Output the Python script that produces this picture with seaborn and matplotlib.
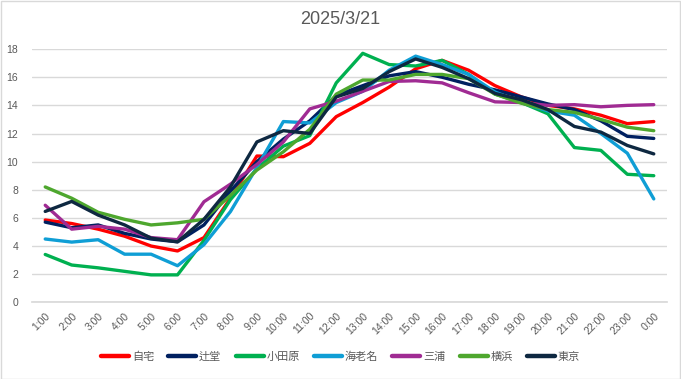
import matplotlib
matplotlib.use("Agg")
import matplotlib.pyplot as plt
import seaborn as sns
import pandas as pd
import numpy as np
from matplotlib.patches import Rectangle

hours = ["1:00", "2:00", "3:00", "4:00", "5:00", "6:00", "7:00", "8:00", "9:00", "10:00",
         "11:00", "12:00", "13:00", "14:00", "15:00", "16:00", "17:00", "18:00", "19:00",
         "20:00", "21:00", "22:00", "23:00", "0:00"]

jitaku = [5.85, 5.6, 5.2, 4.7, 4.0, 3.65, 4.6, 7.4, 10.4, 10.35, 11.3, 13.2, 14.2, 15.3,
          16.6, 17.2, 16.5, 15.4, 14.6, 14.0, 13.75, 13.3, 12.7, 12.85]
tsujido = [5.7, 5.3, 5.5, 4.9, 4.5, 4.3, 5.5, 7.9, 10.0, 11.6, 12.9, 14.7, 15.4, 16.1,
           16.4, 16.0, 15.5, 15.1, 14.6, 14.1, 13.7, 12.9, 11.8, 11.65]
odawara = [3.4, 2.65, 2.45, 2.2, 1.95, 1.95, 4.4, 7.3, 9.5, 11.1, 11.85, 15.6, 17.7, 16.9,
           16.8, 17.2, 16.2, 14.8, 14.2, 13.4, 11.0, 10.8, 9.1, 9.0]
ebina = [4.5, 4.28, 4.45, 3.42, 3.42, 2.6, 4.1, 6.45, 9.6, 12.85, 12.75, 14.2, 15.0, 16.5,
         17.5, 16.9, 16.2, 14.95, 14.2, 13.6, 13.3, 12.0, 10.6, 7.35]
miura = [6.9, 5.2, 5.4, 5.2, 4.6, 4.45, 7.15, 8.4, 9.8, 11.4, 13.75, 14.3, 15.0, 15.7,
         15.75, 15.6, 14.9, 14.25, 14.2, 14.0, 14.05, 13.9, 14.0, 14.05]
yokohama = [8.2, 7.4, 6.4, 5.9, 5.5, 5.65, 5.9, 7.6, 9.4, 10.7, 12.3, 14.8, 15.8, 15.8,
            16.2, 16.2, 15.9, 14.8, 14.15, 13.7, 13.5, 13.0, 12.45, 12.2]
tokyo = [6.46, 7.17, 6.2, 5.5, 4.56, 4.3, 5.9, 8.2, 11.4, 12.2, 12.0, 14.6, 15.2, 16.4,
         17.3, 16.7, 15.9, 14.85, 14.4, 13.7, 12.5, 12.1, 11.15, 10.55]

stations = ["自宅", "辻堂", "小田原", "海老名", "三浦", "横浜", "東京"]
series = [jitaku, tsujido, odawara, ebina, miura, yokohama, tokyo]
colors = ["#FF0000", "#002060", "#00B050", "#0F9ED5", "#A02B93", "#4EA72E", "#0E2841"]
title = "2025/3/21"

rows = []
for name, vals in zip(stations, series):
    for i, v in enumerate(vals):
        rows.append({"hour": i, "label": hours[i], "station": name, "value": v})
df = pd.DataFrame(rows)

sns.set_theme(style="white")
plt.rcParams["font.family"] = ["Liberation Sans", "Noto Sans CJK JP", "DejaVu Sans"]

fig = plt.figure(figsize=(6.81, 3.79), dpi=100)
ax = fig.add_axes([32 / 681, 1 - 302.3 / 379, (667 - 32) / 681, (302.3 - 49.1) / 379])

sns.lineplot(data=df, x="hour", y="value", hue="station", hue_order=stations,
             palette=dict(zip(stations, colors)), linewidth=2.4, ax=ax, sort=False,
             legend=True)

ax.set_xlim(-0.5, len(hours) - 0.5)
ax.set_ylim(0, 18)
ax.set_yticks(np.arange(0, 19, 2))
ax.set_xticks(range(len(hours)))
ax.set_xticklabels(hours, rotation=45, ha="right", rotation_mode="anchor")
ax.tick_params(axis="both", length=0, labelsize=7.5, colors="#595959")
ax.tick_params(axis="x", pad=6)
ax.tick_params(axis="y", pad=10)
ax.grid(axis="y", color="#D9D9D9", linewidth=1)
ax.set_axisbelow(True)
for s in ["top", "right", "left"]:
    ax.spines[s].set_visible(False)
ax.spines["bottom"].set_color("#D9D9D9")
ax.set_xlabel("")
ax.set_ylabel("")

fig.text(0.5, 1 - 20 / 379, title, ha="center", va="center", fontsize=13, color="#595959")

handles, labels = ax.get_legend_handles_labels()
ax.legend_.remove()
leg = fig.legend(handles, labels, loc="center", bbox_to_anchor=(0.5, 1 - 357 / 379),
                 ncol=7, frameon=False, fontsize=8, handlelength=2.5, handletextpad=0.25,
                 columnspacing=1.3, labelcolor="#595959")
for h in leg.legend_handles:
    h.set_linewidth(3.2)

fig.patches.append(Rectangle((0.5 / 681, 0.5 / 379), 679.5 / 681, 377.5 / 379,
                             transform=fig.transFigure, fill=False,
                             edgecolor="#D9D9D9", linewidth=1))

fig.savefig("out.png", dpi=100)
